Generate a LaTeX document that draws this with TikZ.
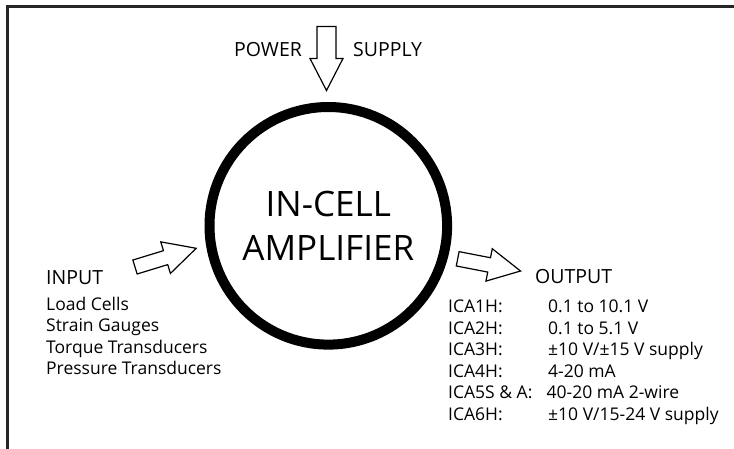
\documentclass[tikz,border=0pt]{standalone}
\usepackage{fontspec}
\setmainfont{Open Sans}
\tikzset{
  ampcircle/.style={circle, draw, line width=10pt, minimum size=237.6pt, inner sep=0pt, align=center, font=\fontsize{35}{44}\selectfont},
  headtxt/.style={anchor=base west, inner sep=0pt, font=\fontsize{19.5}{23}\selectfont},
  listtxt/.style={anchor=base west, inner sep=0pt, font=\fontsize{17.5}{21}\selectfont},
  arrowbox/.style={draw, fill=white, line width=1.2pt, line join=miter},
  frameline/.style={draw=black!85, line width=3pt, line join=miter, line cap=rect},
}
% block arrow: start, angle, half width of the shaft
\newcommand{\blockarrow}[3]{%
  \draw[arrowbox, shift={#1}, rotate=#2] (0,-#3) -- (32,-#3) -- (32,-16.5) -- (64,0) -- (32,16.5) -- (32,#3) -- (0,#3) -- cycle;}
\begin{document}
\begin{tikzpicture}[x=1pt, y=-1pt, line join=round, line cap=round] % amplifier
	\useasboundingbox (0,0) rectangle (734,448);
	\draw[frameline] (7.5,448) -- (7.5,6.7) -- (734,6.7);
	\node[ampcircle] (amp) at (328.3,225.8) {IN-CELL\\AMPLIFIER};
	% arrows
	\coordinate (pwr) at (326.5,26.5);
	\coordinate (inp) at (135,267);
	\coordinate (outp) at (457.7,258.8);
	\blockarrow{(pwr)}{-90}{9.5}
	\blockarrow{(inp)}{17}{7.3}
	\blockarrow{(outp)}{-11}{7.3}
	% power supply
	\node[headtxt] (power) at (234,56) {POWER};
	\node[headtxt] (supply) at (353,56) {SUPPLY};
	% input
	\node[headtxt] (input) at (46,284) {INPUT};
	\node[listtxt] (in1) at (46,310) {Load Cells};
	\node[listtxt] (in2) at (46,331.5) {Strain Gauges};
	\node[listtxt] (in3) at (46,353) {Torque Transducers};
	\node[listtxt] (in4) at (46,374.3) {Pressure Transducers};
	% output
	\node[headtxt] (output) at (535,283.5) {OUTPUT};
	\node[listtxt] (ica1) at (448,312.5) {ICA1H:};
	\node[listtxt] (ica2) at (448,334) {ICA2H:};
	\node[listtxt] (ica3) at (448,355.5) {ICA3H:};
	\node[listtxt] (ica4) at (448,377) {ICA4H:};
	\node[listtxt] (ica5) at (448,398.5) {ICA5S \& A:};
	\node[listtxt] (ica6) at (448,420) {ICA6H:};
	\node[listtxt] (val1) at (548,312.5) {0.1 to 10.1 V};
	\node[listtxt] (val2) at (548,334) {0.1 to 5.1 V};
	\node[listtxt] (val3) at (548,355.5) {±10 V/±15 V supply};
	\node[listtxt] (val4) at (548,377) {4-20 mA};
	\node[listtxt] (val5) at (546.5,398.5) {40-20 mA 2-wire};
	\node[listtxt] (val6) at (548,420) {±10 V/15-24 V supply};
\end{tikzpicture}
\end{document}
